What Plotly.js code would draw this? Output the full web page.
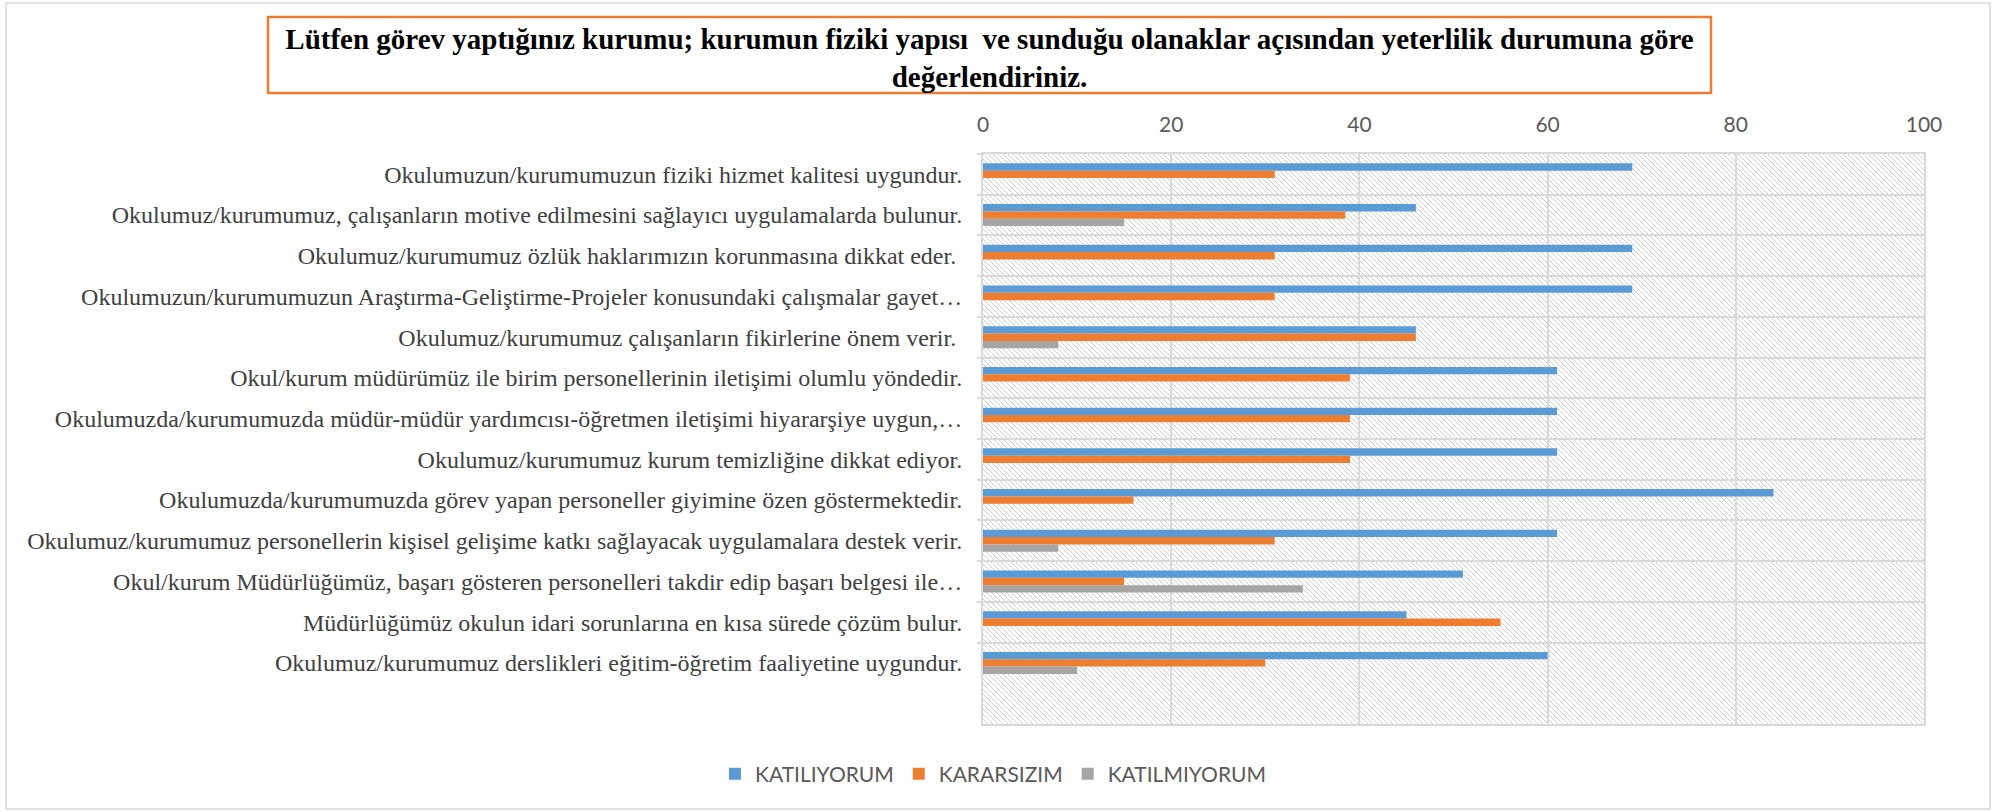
<!DOCTYPE html>
<html>
<head>
<meta charset="utf-8">
<script src="https://cdn.plot.ly/plotly-3.0.1.min.js"></script>
<style>
html, body { margin: 0; padding: 0; background: #ffffff; }
#chart { width: 1995px; height: 812px; }
</style>
</head>
<body>
<div id="chart"></div>
<script>
// ---- data ----
const categories = [
  "Okulumuzun/kurumumuzun fiziki hizmet kalitesi uygundur.",
  "Okulumuz/kurumumuz, çalışanların motive edilmesini sağlayıcı uygulamalarda bulunur.",
  "Okulumuz/kurumumuz özlük haklarımızın korunmasına dikkat eder.\u00a0",
  "Okulumuzun/kurumumuzun Araştırma-Geliştirme-Projeler konusundaki çalışmalar gayet…",
  "Okulumuz/kurumumuz çalışanların fikirlerine önem verir.\u00a0",
  "Okul/kurum müdürümüz ile birim personellerinin iletişimi olumlu yöndedir.",
  "Okulumuzda/kurumumuzda müdür-müdür yardımcısı-öğretmen iletişimi hiyararşiye uygun,…",
  "Okulumuz/kurumumuz kurum temizliğine dikkat ediyor.",
  "Okulumuzda/kurumumuzda görev yapan personeller giyimine özen göstermektedir.",
  "Okulumuz/kurumumuz personellerin kişisel gelişime katkı sağlayacak uygulamalara destek verir.",
  "Okul/kurum Müdürlüğümüz, başarı gösteren personelleri takdir edip başarı belgesi ile…",
  "Müdürlüğümüz okulun idari sorunlarına en kısa sürede çözüm bulur.",
  "Okulumuz/kurumumuz derslikleri eğitim-öğretim faaliyetine uygundur."
];
const katiliyorum  = [69, 46,   69, 69, 46, 61, 61, 61, 84, 61, 51, 45, 60];
const kararsizim   = [31, 38.5, 31, 31, 46, 39, 39, 39, 16, 31, 15, 55, 30];
const katilmiyorum = [0,  15,   0,  0,  8,  0,  0,  0,  0,  8,  34, 0,  10];
const seriesNames  = ["KATILIYORUM", "KARARSIZIM", "KATILMIYORUM"];
const seriesColors = ["#5B9BD5", "#ED7D31", "#A5A5A5"];
const tickValues   = [0, 20, 40, 60, 80, 100];
const titleText = "Lütfen görev yaptığınız kurumu; kurumun fiziki yapısı  ve sunduğu olanaklar açısından yeterlilik durumuna göre<br>değerlendiriniz.";

// ---- geometry ----
const W = 1995, H = 812;
const M = { l: 983, r: 71, t: 154, b: 88 };
const pw = W - M.l - M.r, ph = H - M.t - M.b;
const px2x = px => (px - M.l) / pw;
const px2y = py => (H - M.b - py) / ph;

const seriesValues = [katiliyorum, kararsizim, katilmiyorum];
const traces = seriesNames.map((name, i) => ({
  type: "bar",
  orientation: "h",
  name: name,
  y: categories,
  x: seriesValues[i],
  marker: { color: seriesColors[i], line: { width: 0 } },
  hoverinfo: "skip"
}));

// hatched plot-area background
const hatchSvg =
  '<svg xmlns="http://www.w3.org/2000/svg" width="' + pw + '" height="' + ph + '">' +
  '<defs><pattern id="h" width="5" height="5" patternUnits="userSpaceOnUse">' +
  '<path d="M0,0L5,5M-1,4L1,6M4,-1L6,1" stroke="#cdcdcd" stroke-width="1"/>' +
  '</pattern></defs><rect width="100%" height="100%" fill="#ffffff"/>' +
  '<rect width="100%" height="100%" fill="url(#h)"/></svg>';

const gridCol = "#d9d9d9";

const layout = {
  width: W,
  height: H,
  margin: { l: M.l, r: M.r, t: M.t, b: M.b, pad: 0, autoexpand: false },
  paper_bgcolor: "#ffffff",
  plot_bgcolor: "#ffffff",
  barmode: "group",
  bargap: 0.46,
  bargroupgap: 0,
  title: {
    text: titleText,
    font: { family: "Liberation Serif, 'Times New Roman', serif", size: 29, color: "#000000", weight: "bold" },
    xref: "container", yref: "container",
    x: 989.5 / W, xanchor: "center",
    y: 1 - 49 / H, yanchor: "middle"
  },
  xaxis: {
    side: "top",
    range: [0, 100],
    tickvals: tickValues,
    ticktext: tickValues.map(String),
    tickfont: { family: "Lato", size: 21, color: "#595959" },
    ticks: "",
    ticklabelstandoff: 12,
    showgrid: true, gridcolor: gridCol, gridwidth: 2,
    zeroline: false,
    showline: true, linecolor: gridCol, linewidth: 2, mirror: true,
    fixedrange: true
  },
  yaxis: {
    type: "category",
    range: [categories.length + 0.5, -0.5],
    tickson: "boundaries",
    ticks: "outside", ticklen: 4, tickcolor: gridCol, tickwidth: 2,
    tickfont: { family: "Liberation Serif, 'Times New Roman', serif", size: 24, color: "#404040" },
    ticklabelstandoff: 14,
    showgrid: true, gridcolor: gridCol, gridwidth: 2,
    zeroline: false,
    showline: true, linecolor: gridCol, linewidth: 2, mirror: true,
    fixedrange: true
  },
  legend: {
    orientation: "h",
    traceorder: "normal",
    x: px2x(993), xanchor: "center",
    y: px2y(774), yanchor: "middle",
    font: { family: "Lato", size: 21, color: "#595959" },
    bgcolor: "rgba(0,0,0,0)"
  },
  images: [{
    source: "data:image/svg+xml;charset=utf-8," + encodeURIComponent(hatchSvg),
    xref: "x domain", yref: "y domain",
    x: 0, y: 1, sizex: 1, sizey: 1,
    xanchor: "left", yanchor: "top",
    sizing: "stretch", layer: "below"
  }],
  shapes: [
    { type: "rect", xref: "paper", yref: "paper",
      x0: px2x(6), x1: px2x(1990), y0: px2y(809), y1: px2y(3),
      line: { color: gridCol, width: 1.5 }, fillcolor: "rgba(0,0,0,0)", layer: "below" },
    { type: "rect", xref: "paper", yref: "paper",
      x0: px2x(268), x1: px2x(1711), y0: px2y(93), y1: px2y(17),
      line: { color: "#ED7D31", width: 2.5 }, fillcolor: "rgba(0,0,0,0)" }
  ]
};

Plotly.newPlot("chart", traces, layout, { staticPlot: true, displayModeBar: false });
</script>
</body>
</html>
